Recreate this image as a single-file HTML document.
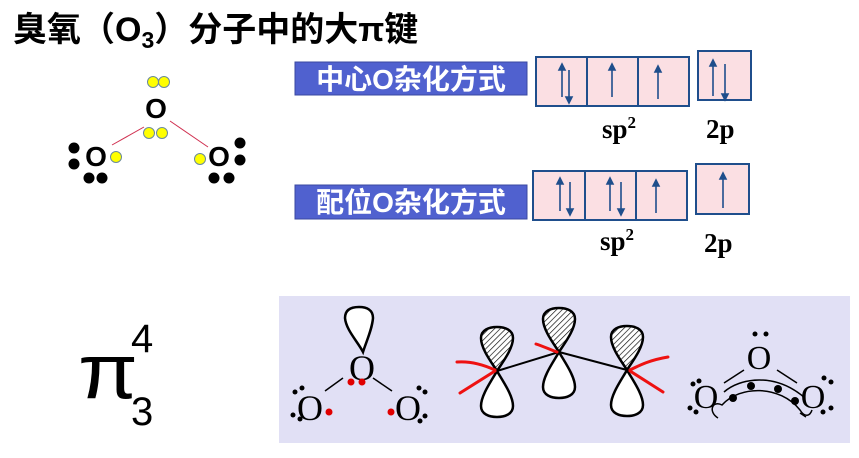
<!DOCTYPE html>
<html><head><meta charset="utf-8"><style>
html,body{margin:0;padding:0;background:#fff;}
svg{display:block;}
</style></head><body>
<svg width="859" height="458" viewBox="0 0 859 458" xmlns="http://www.w3.org/2000/svg">
<defs>
<pattern id="h" patternUnits="userSpaceOnUse" width="4" height="4" patternTransform="rotate(45)">
<rect width="4" height="4" fill="#fff"/><line x1="0" y1="0" x2="0" y2="4" stroke="#000" stroke-width="1.3"/>
</pattern>
<path id="up" d="M0,0 C-5,-8 -16,-22 -16,-33 C-16,-41 -8,-44 0,-44 C8,-44 16,-41 16,-33 C16,-22 5,-8 0,0Z" stroke="#000" stroke-width="2.5"/>
<path id="dn" d="M0,0 C5,9 16,24 16,35 C16,43 8,46 0,46 C-8,46 -16,43 -16,35 C-16,24 -5,9 0,0Z" fill="#fff" stroke="#000" stroke-width="2.5"/>
</defs>
<text x="13" y="41" font-family="Liberation Sans, Noto Sans CJK SC, sans-serif" font-size="34" font-weight="bold">臭氧（O<tspan font-size="23" dy="7">3</tspan><tspan dy="-7">）分子中的大π键</tspan></text>

<!-- Lewis structure -->
<g font-family="Liberation Sans, sans-serif" font-weight="bold" font-size="28" text-anchor="middle">
<text x="156" y="118">O</text><text x="96" y="166">O</text><text x="219" y="166">O</text></g>
<line x1="144" y1="127" x2="112" y2="145" stroke="#d03050" stroke-width="1"/>
<line x1="170" y1="121" x2="208" y2="147" stroke="#d03050" stroke-width="1"/>
<g fill="#ffff00" stroke="#6a8a9a" stroke-width="1">
<circle cx="153" cy="82" r="5.5"/><circle cx="164" cy="82" r="5.5"/>
<circle cx="149" cy="133" r="5.5"/><circle cx="162" cy="133" r="5.5"/>
<circle cx="116" cy="157" r="5.5"/><circle cx="200" cy="159" r="5.5"/></g>
<g fill="#000">
<circle cx="74" cy="148" r="5.5"/><circle cx="74" cy="164" r="5.5"/><circle cx="89" cy="178" r="5.5"/><circle cx="102" cy="178" r="5.5"/>
<circle cx="240" cy="143" r="5.5"/><circle cx="240" cy="160" r="5.5"/><circle cx="214" cy="178" r="5.5"/><circle cx="229" cy="178" r="5.5"/></g>

<!-- labels -->
<rect x="295" y="62" width="232" height="33" fill="#5061cf" stroke="#3a48a0"/>
<text x="411" y="89" text-anchor="middle" fill="#fff" font-family="Liberation Sans, Noto Sans CJK SC, sans-serif" font-weight="bold" font-size="28">中心O杂化方式</text>
<rect x="295" y="185" width="232" height="34" fill="#5061cf" stroke="#3a48a0"/>
<text x="411" y="212" text-anchor="middle" fill="#fff" font-family="Liberation Sans, Noto Sans CJK SC, sans-serif" font-weight="bold" font-size="28">配位O杂化方式</text>

<g fill="#fbdfe3" stroke="#1f4e8c" stroke-width="2">
<rect x="536" y="57" width="153" height="49"/><line x1="587" y1="57" x2="587" y2="106"/><line x1="638" y1="57" x2="638" y2="106"/>
<rect x="698" y="51" width="53" height="49"/>
<rect x="533" y="171" width="154" height="49"/><line x1="585" y1="171" x2="585" y2="220"/><line x1="636" y1="171" x2="636" y2="220"/>
<rect x="696" y="164" width="53" height="50"/></g>
<g stroke="#1f4e8c" stroke-width="1.6" fill="#1f4e8c">
<line x1="562" y1="68" x2="562" y2="97"/><path d="M559,70 L562,64 L565,70Z"/>
<line x1="569" y1="70" x2="569" y2="99"/><path d="M566,97 L569,103 L572,97Z"/>
<line x1="612" y1="68" x2="612" y2="97"/><path d="M609,70 L612,64 L615,70Z"/>
<line x1="658" y1="70" x2="658" y2="99"/><path d="M655,72 L658,66 L661,72Z"/>
<line x1="713" y1="64" x2="713" y2="96"/><path d="M710,66 L713,60 L716,66Z"/>
<line x1="725" y1="64" x2="725" y2="96"/><path d="M722,94 L725,100 L728,94Z"/>
<line x1="560" y1="182" x2="560" y2="211"/><path d="M557,184 L560,178 L563,184Z"/>
<line x1="570" y1="182" x2="570" y2="211"/><path d="M567,209 L570,215 L573,209Z"/>
<line x1="610" y1="182" x2="610" y2="211"/><path d="M607,184 L610,178 L613,184Z"/>
<line x1="621" y1="182" x2="621" y2="211"/><path d="M618,209 L621,215 L624,209Z"/>
<line x1="656" y1="184" x2="656" y2="213"/><path d="M653,186 L656,180 L659,186Z"/>
<line x1="723" y1="177" x2="723" y2="208"/><path d="M720,179 L723,173 L726,179Z"/>
</g>
<g font-family="Liberation Serif, serif" font-weight="bold" font-size="27">
<text x="602" y="138">sp<tspan font-size="17" dy="-10">2</tspan></text>
<text x="706" y="138">2p</text>
<text x="600" y="250">sp<tspan font-size="17" dy="-10">2</tspan></text>
<text x="704" y="252">2p</text></g>

<!-- pi -->
<g font-family="Liberation Sans, sans-serif">
<text transform="translate(78,398) scale(1.4,1.25)" x="0" y="0" font-size="62">π</text>
<text x="131" y="352" font-size="40">4</text>
<text x="131" y="425" font-size="40">3</text></g>

<!-- bottom panel -->
<rect x="279" y="296" width="571" height="147" fill="#e1e0f5"/>
<g font-family="Liberation Serif, serif" font-size="36" text-anchor="middle">
<text x="362" y="380">O</text><text x="310" y="420">O</text><text x="408" y="420">O</text></g>
<path d="M363,352 C358,342 346,330 345,318 C345,309 352,307 359,307 C367,307 373,310 373,318 C372,330 366,342 363,352Z" fill="#fff" stroke="#000" stroke-width="2.5"/>
<line x1="325" y1="391" x2="343" y2="378" stroke="#000" stroke-width="1.5"/>
<line x1="373" y1="378" x2="392" y2="391" stroke="#000" stroke-width="1.5"/>
<g fill="#e00000"><circle cx="351" cy="382" r="3.5"/><circle cx="362" cy="382" r="3.5"/><circle cx="329" cy="412" r="3.5"/><circle cx="391" cy="412" r="3.5"/></g>
<g fill="#000"><circle cx="295" cy="392" r="2.5"/><circle cx="302" cy="388" r="2.5"/><circle cx="293" cy="415" r="2.5"/><circle cx="300" cy="419" r="2.5"/>
<circle cx="419" cy="388" r="2.5"/><circle cx="425" cy="392" r="2.5"/><circle cx="420" cy="421" r="2.5"/><circle cx="425" cy="416" r="2.5"/></g>

<line x1="497" y1="371" x2="559" y2="352" stroke="#000" stroke-width="2"/>
<line x1="559" y1="352" x2="627" y2="370" stroke="#000" stroke-width="2"/>
<use href="#up" x="497" y="371" fill="url(#h)"/><use href="#dn" x="497" y="371"/>
<use href="#up" x="559" y="352" fill="url(#h)"/><use href="#dn" x="559" y="352"/>
<use href="#up" x="627" y="370" fill="url(#h)"/><use href="#dn" x="627" y="370"/>
<g stroke="#ee1111" stroke-width="3" fill="none" stroke-linecap="round">
<path d="M457,362 C470,361 482,364 495,370"/><path d="M460,393 L495,371"/>
<path d="M536,344 C545,347 551,350 557,352"/>
<path d="M668,357 C650,360 640,365 630,370"/><path d="M663,392 L630,371"/></g>

<g font-family="Liberation Serif, serif" font-size="34" text-anchor="middle">
<text x="759" y="369">O</text><text x="706" y="408">O</text><text x="813" y="408">O</text></g>
<g fill="#000"><circle cx="755" cy="334" r="2.5"/><circle cx="766" cy="334" r="2.5"/>
<circle cx="693" cy="384" r="2.5"/><circle cx="699" cy="381" r="2.5"/><circle cx="690" cy="408" r="2.5"/><circle cx="696" cy="412" r="2.5"/>
<circle cx="824" cy="378" r="2.5"/><circle cx="831" cy="382" r="2.5"/><circle cx="823" cy="412" r="2.5"/><circle cx="831" cy="408" r="2.5"/>
<circle cx="733" cy="398" r="4"/><circle cx="751" cy="386" r="4"/><circle cx="778" cy="389" r="4"/><circle cx="795" cy="401" r="4"/></g>
<g stroke="#000" stroke-width="1.5" fill="none">
<line x1="724" y1="383" x2="744" y2="370"/><line x1="777" y1="370" x2="797" y2="383"/>
<path d="M724,392 C740,378 775,372 805,398"/>
<path d="M718,418 C708,412 712,400 722,405 C740,385 780,385 800,410 C805,418 810,416 812,410"/>
<path d="M800,413 L806,417"/>
</g>
</svg>
</body></html>
